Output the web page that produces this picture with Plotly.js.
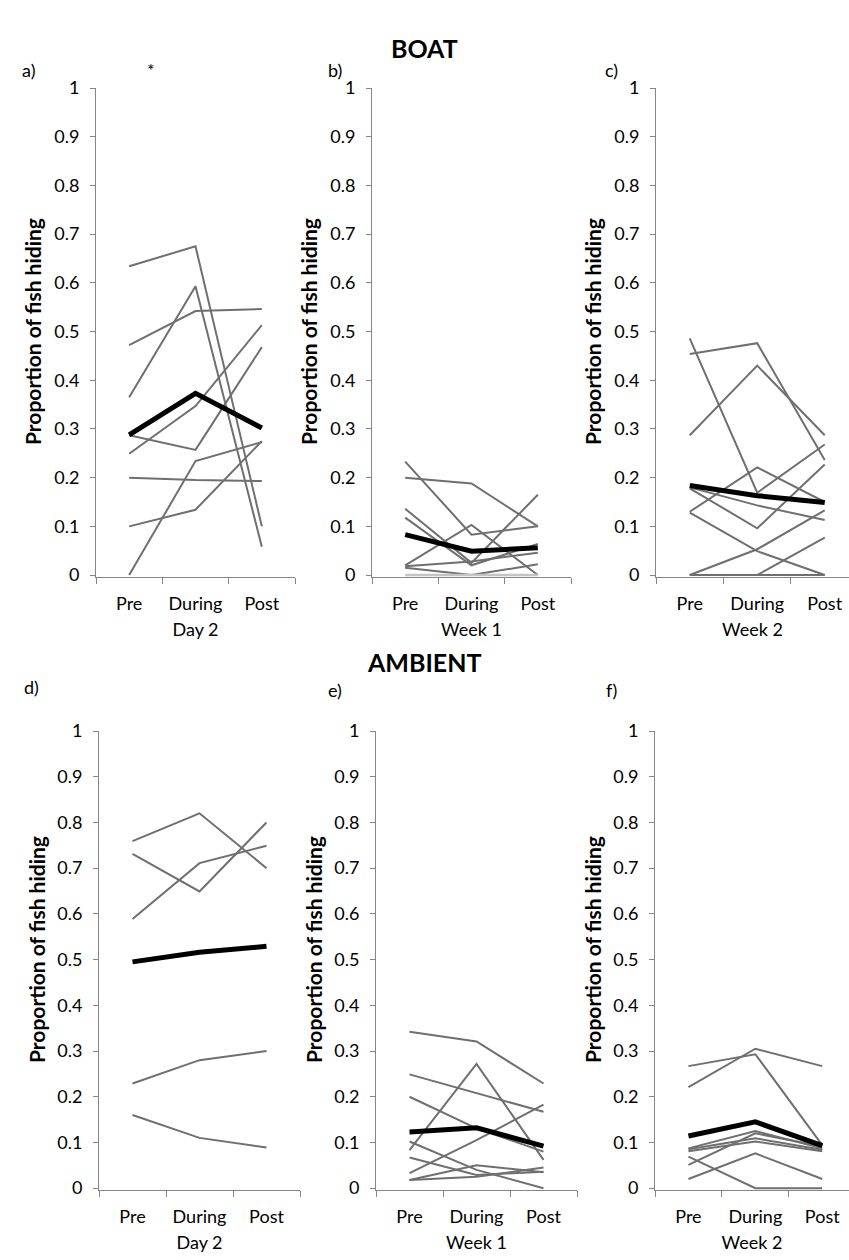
<!DOCTYPE html>
<html>
<head>
<meta charset="utf-8">
<script src="https://cdn.plot.ly/plotly-3.0.1.min.js"></script>
<style>html,body{margin:0;padding:0;background:#fff;}#chart{width:849px;height:1260px;}</style>
</head>
<body>
<div id="chart"></div>
<script>
// ---- data ----
const phases = ['Pre', 'During', 'Post'];
const yTickVals = [0, 0.1, 0.2, 0.3, 0.4, 0.5, 0.6, 0.7, 0.8, 0.9, 1];
const yTickText = ['0', '0.1', '0.2', '0.3', '0.4', '0.5', '0.6', '0.7', '0.8', '0.9', '1'];
const periodLabels = ['Day 2', 'Week 1', 'Week 2', 'Day 2', 'Week 1', 'Week 2'];
const panelLetters = ['a)', 'b)', 'c)', 'd)', 'e)', 'f)'];
const sectionTitles = ['BOAT', 'AMBIENT'];

const boatDay2Fish = [
  [0.634, 0.675, 0.100],
  [0.472, 0.542, 0.546],
  [0.365, 0.593, 0.058],
  [0.249, 0.347, 0.513],
  [0.287, 0.257, 0.468],
  [0.200, 0.195, 0.193],
  [0.100, 0.134, 0.275],
  [0.000, 0.234, 0.273]
];
const boatDay2Mean = [0.288, 0.373, 0.302];

const boatWeek1Fish = [
  [0.233, 0.083, 0.100],
  [0.200, 0.188, 0.100],
  [0.136, 0.025, 0.165],
  [0.118, 0.020, 0.064],
  [0.020, 0.103, 0.000],
  [0.018, 0.028, 0.046],
  [0.015, 0.000, 0.022]
];
const boatWeek1Zero = [0.000, 0.000, 0.000];
const boatWeek1Mean = [0.083, 0.049, 0.056];

const boatWeek2Fish = [
  [0.486, 0.169, 0.268],
  [0.454, 0.476, 0.236],
  [0.287, 0.430, 0.287],
  [0.180, 0.143, 0.113],
  [0.178, 0.096, 0.227],
  [0.130, 0.221, 0.150],
  [0.128, 0.049, 0.000],
  [0.000, 0.053, 0.133],
  [0.000, 0.000, 0.077],
  [0.000, 0.000, 0.000]
];
const boatWeek2Mean = [0.184, 0.163, 0.149];

const ambDay2Fish = [
  [0.759, 0.820, 0.700],
  [0.731, 0.649, 0.800],
  [0.589, 0.711, 0.749],
  [0.229, 0.280, 0.300],
  [0.160, 0.110, 0.089]
];
const ambDay2Mean = [0.495, 0.516, 0.529];

const ambWeek1Fish = [
  [0.342, 0.321, 0.229],
  [0.249, 0.208, 0.167],
  [0.200, 0.131, 0.080],
  [0.083, 0.272, 0.062],
  [0.102, 0.040, 0.000],
  [0.067, 0.029, 0.036],
  [0.033, 0.105, 0.183],
  [0.018, 0.050, 0.035],
  [0.018, 0.025, 0.045]
];
const ambWeek1Mean = [0.123, 0.132, 0.092];

const ambWeek2Fish = [
  [0.267, 0.293, 0.094],
  [0.221, 0.305, 0.267],
  [0.087, 0.125, 0.087],
  [0.085, 0.109, 0.084],
  [0.081, 0.102, 0.081],
  [0.051, 0.120, 0.091],
  [0.069, 0.000, 0.000],
  [0.020, 0.076, 0.020]
];
const ambWeek2Mean = [0.114, 0.145, 0.093];

// ---- layout geometry (pixels) ----
const W = 849, H = 1260;
const panels = [
  {fish: boatDay2Fish, mean: boatDay2Mean, light: null, x0: 96, x1: 295, top: 88, bot: 577, xmax: 2.5},
  {fish: boatWeek1Fish, mean: boatWeek1Mean, light: boatWeek1Zero, x0: 372, x1: 571, top: 88, bot: 577, xmax: 2.5},
  {fish: boatWeek2Fish, mean: boatWeek2Mean, light: null, x0: 656, x1: 849, top: 88, bot: 577, xmax: 2.36},
  {fish: ambDay2Fish, mean: ambDay2Mean, light: null, x0: 99, x1: 300, top: 731, bot: 1190, xmax: 2.5},
  {fish: ambWeek1Fish, mean: ambWeek1Mean, light: null, x0: 376, x1: 577, top: 731, bot: 1190, xmax: 2.5},
  {fish: ambWeek2Fish, mean: ambWeek2Mean, light: null, x0: 655, x1: 849, top: 731, bot: 1190, xmax: 2.4}
];

const FONT = 'Lato, "Liberation Sans", sans-serif';
const axisGray = '#868686';
const traces = [];
const layout = {
  width: W, height: H,
  margin: {l: 0, r: 0, t: 0, b: 0},
  paper_bgcolor: '#fff', plot_bgcolor: 'rgba(0,0,0,0)',
  showlegend: false,
  font: {family: FONT, color: '#000'},
  annotations: []
};

panels.forEach((p, i) => {
  const n = i === 0 ? '' : String(i + 1);
  const xa = 'x' + n, ya = 'y' + n;
  p.fish.forEach(f => traces.push({
    type: 'scatter', mode: 'lines', x: phases, y: f, xaxis: xa, yaxis: ya,
    line: {color: '#6f6f6f', width: 2}, hoverinfo: 'skip'
  }));
  if (p.light) traces.push({
    type: 'scatter', mode: 'lines', x: phases, y: p.light, xaxis: xa, yaxis: ya,
    line: {color: '#c4c4c4', width: 2.5}, hoverinfo: 'skip'
  });
  traces.push({
    type: 'scatter', mode: 'lines', x: phases, y: p.mean, xaxis: xa, yaxis: ya,
    line: {color: '#000', width: 5}, hoverinfo: 'skip'
  });
  layout['xaxis' + n] = {
    domain: [p.x0 / W, Math.min(1, p.x1 / W)], anchor: ya,
    type: 'category', categoryorder: 'array', categoryarray: phases,
    range: [-0.5, p.xmax], tickson: 'boundaries', ticks: 'outside', ticklen: 6,
    tickcolor: axisGray, showline: true, linecolor: axisGray, linewidth: 1,
    showgrid: false, zeroline: false, fixedrange: true, ticklabelstandoff: 10,
    tickfont: {family: FONT, size: 18, color: '#000'},
    title: {text: periodLabels[i], standoff: 10, font: {family: FONT, size: 18, color: '#000'}}
  };
  layout['yaxis' + n] = {
    domain: [1 - p.bot / H, 1 - p.top / H], anchor: xa,
    range: [-0.004, 1], tickvals: yTickVals, ticktext: yTickText,
    ticks: 'outside', ticklen: 5, tickcolor: axisGray,
    showline: true, linecolor: axisGray, linewidth: 1,
    showgrid: false, zeroline: false, fixedrange: true, ticklabelstandoff: 7,
    tickfont: {family: FONT, size: 18, color: '#000'}
  };
  layout.annotations.push({
    xref: 'paper', yref: 'paper', x: (p.x0 - 63) / W,
    y: 1 - (i < 3 ? 332 : 950) / H,
    text: '<b>Proportion of fish hiding</b>', textangle: -90, showarrow: false,
    xanchor: 'center', yanchor: 'middle', font: {family: FONT, size: 21, color: '#000'}
  });
  const letterX = [20, 326, 603, 22, 326, 604][i];
  const letterY = [70, 70, 70, 687, 690, 690][i];
  layout.annotations.push({
    xref: 'paper', yref: 'paper', x: letterX / W, y: 1 - letterY / H,
    text: panelLetters[i], showarrow: false, xanchor: 'left', yanchor: 'middle',
    font: {family: FONT, size: 18, color: '#000'}
  });
});

layout.annotations.push({
  xref: 'paper', yref: 'paper', x: 151 / W, y: 1 - 70 / H, text: '*', showarrow: false,
  xanchor: 'center', yanchor: 'middle', font: {family: FONT, size: 18, color: '#000'}
});
[48, 662].forEach((yy, k) => layout.annotations.push({
  xref: 'paper', yref: 'paper', x: 0.5, y: 1 - yy / H, text: '<b>' + sectionTitles[k] + '</b>',
  showarrow: false, xanchor: 'center', yanchor: 'middle',
  font: {family: FONT, size: 25, color: '#000'}
}));

Plotly.newPlot('chart', traces, layout, {staticPlot: true, displayModeBar: false});
</script>
</body>
</html>
